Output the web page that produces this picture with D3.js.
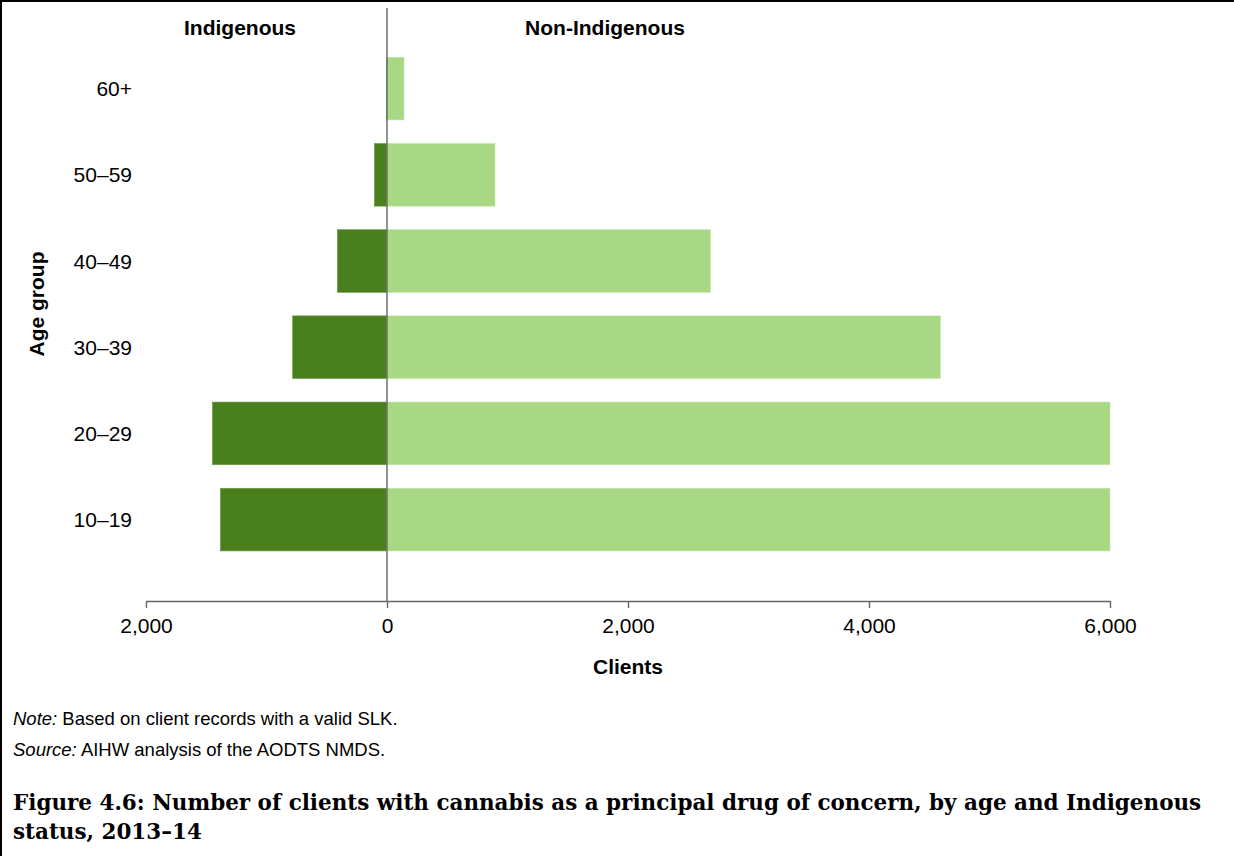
<!DOCTYPE html>
<html>
<head>
<meta charset="utf-8">
<script src="https://cdn.jsdelivr.net/npm/d3@7/dist/d3.min.js"></script>
<style>
  html, body { margin: 0; padding: 0; background: #fff; }
  svg { display: block; }
</style>
</head>
<body>
<svg id="chart" width="1234" height="856"></svg>
<script>
// ---- data ----
const ageGroups = ["60+", "50–59", "40–49", "30–39", "20–29", "10–19"];
const indigenous = [5, 105, 412, 783, 1449, 1383];
const nonIndigenous = [141, 896, 2684, 4592, 6000, 6000];
const xTicks = [-2000, 0, 2000, 4000, 6000];
const seriesNames = ["Indigenous", "Non-Indigenous"];
const seriesColors = ["#4a7f1e", "#a9d884"];
const axisTitleX = "Clients";
const axisTitleY = "Age group";
const noteLabel = "Note:";
const noteText = " Based on client records with a valid SLK.";
const sourceLabel = "Source:";
const sourceText = " AIHW analysis of the AODTS NMDS.";
const titleLines = [
  "Figure 4.6: Number of clients with cannabis as a principal drug of concern, by age and Indigenous",
  "status, 2013–14"
];

const svg = d3.select("#chart");
const sans = "'Liberation Sans', Arial, sans-serif";

// frame lines (top and left)
svg.append("line").attr("x1", 0).attr("x2", 1234).attr("y1", 1).attr("y2", 1)
  .attr("stroke", "#000").attr("stroke-width", 2);
svg.append("line").attr("x1", 1).attr("x2", 1).attr("y1", 0).attr("y2", 856)
  .attr("stroke", "#000").attr("stroke-width", 2);

const x = d3.scaleLinear().domain([-2000, 6000]).range([146, 1110]).clamp(true);
const y = d3.scaleBand().domain(ageGroups).range([45.5, 562.7])
  .paddingInner(0.273).paddingOuter(0.1365);

// bars
const g = svg.append("g");
g.selectAll("rect.ind").data(ageGroups).join("rect")
  .attr("class", "ind")
  .attr("x", (d, i) => x(-indigenous[i]))
  .attr("width", (d, i) => x(0) - x(-indigenous[i]))
  .attr("y", d => y(d))
  .attr("height", y.bandwidth())
  .attr("fill", seriesColors[0])
  .attr("stroke", "#6f9a4a").attr("stroke-width", 0.6);

g.selectAll("rect.non").data(ageGroups).join("rect")
  .attr("class", "non")
  .attr("x", x(0))
  .attr("width", (d, i) => x(nonIndigenous[i]) - x(0))
  .attr("y", d => y(d))
  .attr("height", y.bandwidth())
  .attr("fill", seriesColors[1])
  .attr("stroke", "#c4e6ab").attr("stroke-width", 0.6);

// zero line
svg.append("line")
  .attr("x1", x(0)).attr("x2", x(0)).attr("y1", 8).attr("y2", 601)
  .attr("stroke", "#666").attr("stroke-width", 1.4);

// x axis
const xAxis = d3.axisBottom(x).tickValues(xTicks)
  .tickFormat(d => d3.format(",")(Math.abs(d)))
  .tickSizeInner(7).tickSizeOuter(0).tickPadding(10);
const ax = svg.append("g").attr("transform", "translate(0,601)").call(xAxis);
ax.select(".domain").attr("stroke", "#666").attr("stroke-width", 1.4);
ax.selectAll(".tick line").attr("stroke", "#666").attr("stroke-width", 1.4);
ax.selectAll(".tick text").attr("font-family", sans).attr("font-size", 21)
  .attr("fill", "#000");

// y category labels
svg.append("g").selectAll("text").data(ageGroups).join("text")
  .attr("x", 132)
  .attr("y", d => y(d) + y.bandwidth() / 2)
  .attr("dy", "0.36em")
  .attr("text-anchor", "end")
  .attr("font-family", sans).attr("font-size", 21).attr("fill", "#000")
  .text(d => d);

// series headers
svg.append("text").attr("x", 240).attr("y", 35).attr("text-anchor", "middle")
  .attr("font-family", sans).attr("font-weight", "bold").attr("font-size", 21)
  .text(seriesNames[0]);
svg.append("text").attr("x", 605).attr("y", 35).attr("text-anchor", "middle")
  .attr("font-family", sans).attr("font-weight", "bold").attr("font-size", 21)
  .text(seriesNames[1]);

// axis titles
svg.append("text").attr("x", 628).attr("y", 674).attr("text-anchor", "middle")
  .attr("font-family", sans).attr("font-weight", "bold").attr("font-size", 21)
  .text(axisTitleX);
svg.append("text").attr("transform", "translate(44,304) rotate(-90)")
  .attr("text-anchor", "middle")
  .attr("font-family", sans).attr("font-weight", "bold").attr("font-size", 21)
  .text(axisTitleY);

// note & source
function footnote(yPos, label, text) {
  const t = svg.append("text").attr("x", 13).attr("y", yPos)
    .attr("font-family", sans).attr("font-size", 18.5).attr("fill", "#000");
  t.append("tspan").attr("font-style", "italic").text(label);
  t.append("tspan").text(text);
}
footnote(725, noteLabel, noteText);
footnote(756, sourceLabel, sourceText);

// title
const serif = "'DejaVu Serif', 'Liberation Serif', serif";
const tl = svg.append("g");
const line1 = tl.append("text").attr("x", 13).attr("y", 810)
  .attr("font-family", serif).attr("font-weight", "bold").attr("font-size", 24)
  .attr("fill", "#000").text(titleLines[0]);
const w = line1.node().getComputedTextLength();
const fs = 24 * 1189 / w;
line1.attr("font-size", fs);
tl.append("text").attr("x", 13).attr("y", 839)
  .attr("font-family", serif).attr("font-weight", "bold").attr("font-size", fs)
  .attr("fill", "#000").text(titleLines[1]);
</script>
</body>
</html>
